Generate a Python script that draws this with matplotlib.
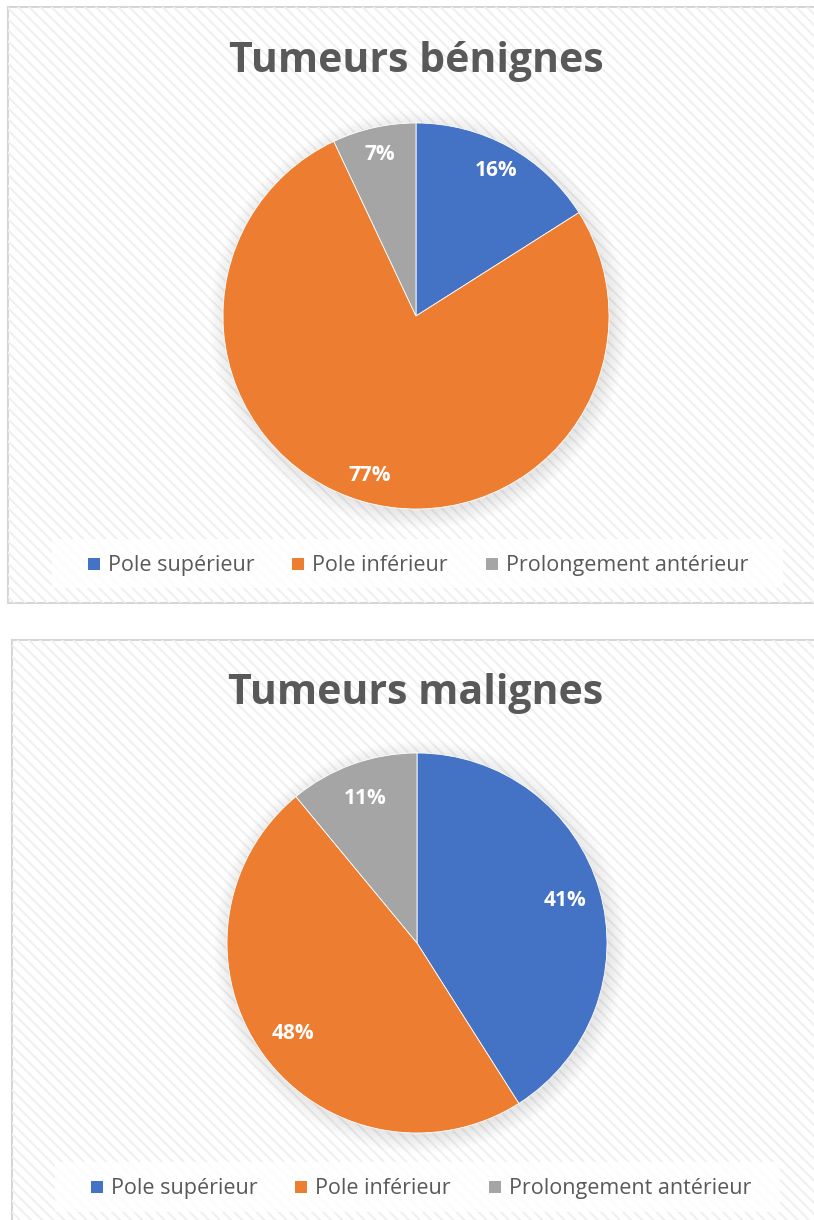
import numpy as np
import matplotlib.pyplot as plt
from matplotlib.patches import Rectangle, Circle

# data
categories = ["Pole supérieur", "Pole inférieur", "Prolongement antérieur"]
benign_values = [16, 77, 7]
malign_values = [41, 48, 11]
titles = ["Tumeurs bénignes", "Tumeurs malignes"]
colors = ["#4472C4", "#ED7D31", "#A5A5A5"]

W, H = 814, 1220
plt.rcParams['font.family'] = ['Open Sans', 'DejaVu Sans']
plt.rcParams['hatch.linewidth'] = 1.4

fig = plt.figure(figsize=(W / 100, H / 100), dpi=100)
fig.patch.set_facecolor('white')
renderer = fig.canvas.get_renderer()


def px_rect(x0, y0, x1, y1):
    # pixel box (top-left origin) -> figure fraction
    return [x0 / W, 1 - y1 / H, (x1 - x0) / W, (y1 - y0) / H]


def add_rect(x0, y0, x1, y1, **kw):
    r = Rectangle((x0 / W, 1 - y1 / H), (x1 - x0) / W, (y1 - y0) / H,
                  transform=fig.transFigure, **kw)
    fig.patches.append(r)
    return r


def draw_legend(labels, cols, center_x, center_y, sq=12, gap=8, colgap=38):
    # single row legend, squares + text on a common baseline
    texts = []
    for lab in labels:
        t = fig.text(0, 1 - (center_y + 7) / H, lab, fontsize=15.5, color='#595959',
                     va='baseline', ha='left', zorder=5)
        texts.append(t)
    widths = [t.get_window_extent(renderer).width for t in texts]
    total = sum(sq + gap + w for w in widths) + colgap * (len(labels) - 1)
    x = center_x - total / 2
    for t, w, c in zip(texts, widths, cols):
        add_rect(x, center_y - sq / 2, x + sq, center_y + sq / 2,
                 facecolor=c, edgecolor='none', zorder=4)
        t.set_x((x + sq + gap) / W)
        x += sq + gap + w + colgap


def draw_panel(box, title, title_y, values, center, r, pctdist, legend_box, legend_x, legend_y):
    x0, y0, x1, y1 = box
    add_rect(x0, y0, x1, y1, facecolor='white', edgecolor='#d6d6d6', linewidth=1.5, zorder=-3)
    add_rect(x0, y0, x1, y1, facecolor='none', edgecolor='#efefef', hatch='\\\\\\',
             linewidth=0, zorder=-2)
    fig.text(416 / W, 1 - title_y / H, title, ha='center', va='center',
             fontsize=29.5, fontweight='bold', color='#595959', zorder=5)

    cx, cy = center
    ax = fig.add_axes(px_rect(cx - r, cy - r, cx + r, cy + r))
    ax.set_zorder(3)
    ax.patch.set_visible(False)
    # soft shadow
    for k in range(8):
        ax.add_patch(Circle((0.015, -0.02), 1.0 + k * 0.012, color='black',
                            alpha=0.012, zorder=0, linewidth=0, clip_on=False))
    wedges, texts, autotexts = ax.pie(values, colors=colors, startangle=90, counterclock=False,
                                      autopct='%1.0f%%', pctdistance=pctdist,
                                      wedgeprops=dict(linewidth=0.6, edgecolor='white'),
                                      textprops=dict(color='white', fontsize=15, fontweight='bold'))
    ax.set_xlim(-1, 1)
    ax.set_ylim(-1, 1)
    ax.set_aspect('equal')
    ax.axis('off')
    for w in wedges:
        w.set_zorder(2)
    for t in autotexts:
        t.set_zorder(4)

    lx0, ly0, lx1, ly1 = legend_box
    add_rect(lx0, ly0, lx1, ly1, facecolor='white', alpha=0.85, edgecolor='none', zorder=-1)
    draw_legend(categories, colors, legend_x, legend_y)
    return ax


draw_panel((8, 7, 830, 603), titles[0], 62, benign_values, (416, 316), 193, 0.86,
           (52, 539, 783, 588), 418, 564)
draw_panel((12, 640, 830, 1240), titles[1], 693, malign_values, (417, 943), 190, 0.81,
           (55, 1162, 780, 1212), 421, 1187)

fig.savefig('out.png', dpi=100, facecolor='white')
